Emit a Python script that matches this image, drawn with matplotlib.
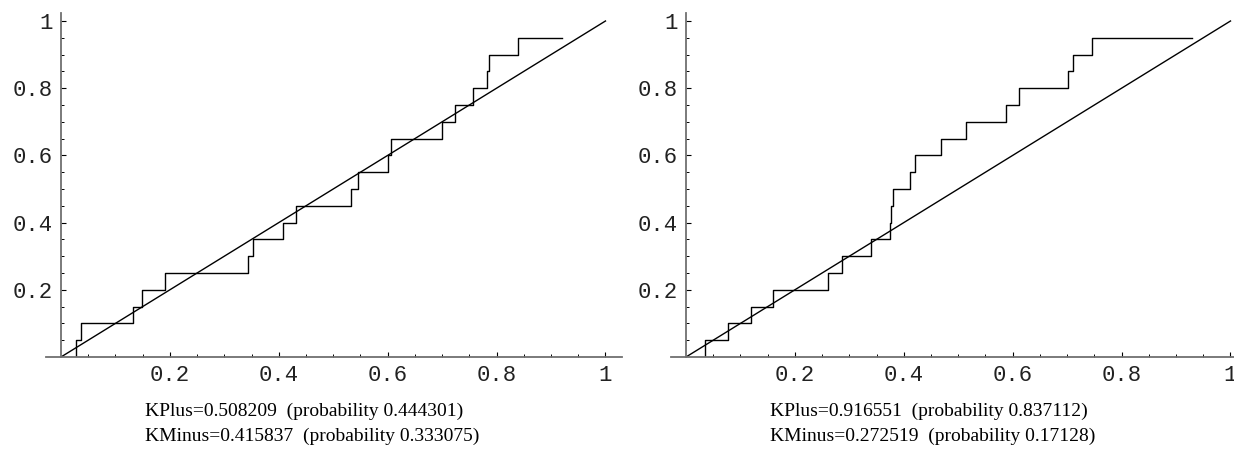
import numpy as np
import matplotlib
matplotlib.use('Agg')
import matplotlib.pyplot as plt

# 표본 (정렬된 x 값, 20개) - 왼쪽 / 오른쪽 그래프
left_x = [0.0275, 0.0373, 0.132, 0.149, 0.191, 0.343, 0.353, 0.408, 0.431, 0.532,
          0.545, 0.601, 0.607, 0.699, 0.724, 0.756, 0.782, 0.786, 0.839, 0.921]
right_x = [0.035, 0.0778, 0.119, 0.159, 0.261, 0.287, 0.339, 0.3755, 0.3765, 0.381,
           0.4118, 0.421, 0.469, 0.515, 0.587, 0.611, 0.702, 0.710, 0.746, 0.9296]
levels = np.arange(20) / 20                     # 경험적 분포 함수 값

left_text = ['KPlus=0.508209  (probability 0.444301)',
             'KMinus=0.415837  (probability 0.333075)']
right_text = ['KPlus=0.916551  (probability 0.837112)',
              'KMinus=0.272519  (probability 0.17128)']

major = [0.2, 0.4, 0.6, 0.8, 1.0]
major_labels = ['0.2', '0.4', '0.6', '0.8', '1']
minor = [m / 20 for m in range(1, 20) if m % 4 != 0]

fig = plt.figure(figsize=(12.34, 4.61), dpi=100)


def ks_panel(left, xs, texts, tx):
    ax = fig.add_axes([left, 0.2256, 0.4664, 0.7471])
    ax.plot(xs, levels, drawstyle='steps-pre', color='black', lw=1.0)
    ax.plot([0, 1], [0, 1], color='black', lw=1.0)
    ax.set_xlim(-0.027, 1.03)
    ax.set_ylim(0, 1.025)

    for s in ['top', 'right']:
        ax.spines[s].set_visible(False)
    for s in ['left', 'bottom']:
        ax.spines[s].set_position(('data', 0))
        ax.spines[s].set_color('#707070')
        ax.spines[s].set_linewidth(1.3)

    ax.set_xticks(major)
    ax.set_xticklabels(major_labels)
    ax.set_yticks(major)
    ax.set_yticklabels(major_labels)
    ax.set_xticks(minor, minor=True)
    ax.set_yticks(minor, minor=True)
    ax.tick_params(which='major', direction='in', length=3.5, width=0.8, color='black')
    ax.tick_params(which='minor', direction='in', length=2, width=0.7, color='black')
    ax.tick_params(axis='y', which='major', pad=6)
    ax.tick_params(axis='x', which='major', pad=6)
    for lab in ax.get_xticklabels() + ax.get_yticklabels():
        lab.set_fontfamily('Liberation Mono')
        lab.set_fontsize(16)
        lab.set_color('#222222')

    fig.text(tx, 0.0976, texts[0], family='Liberation Serif', fontsize=14, va='baseline')
    fig.text(tx, 0.0434, texts[1], family='Liberation Serif', fontsize=14, va='baseline')
    return ax


ks_panel(0.0375, left_x, left_text, 0.1175)
ks_panel(0.5440, right_x, right_text, 0.624)

plt.savefig('out.png', dpi=100)
